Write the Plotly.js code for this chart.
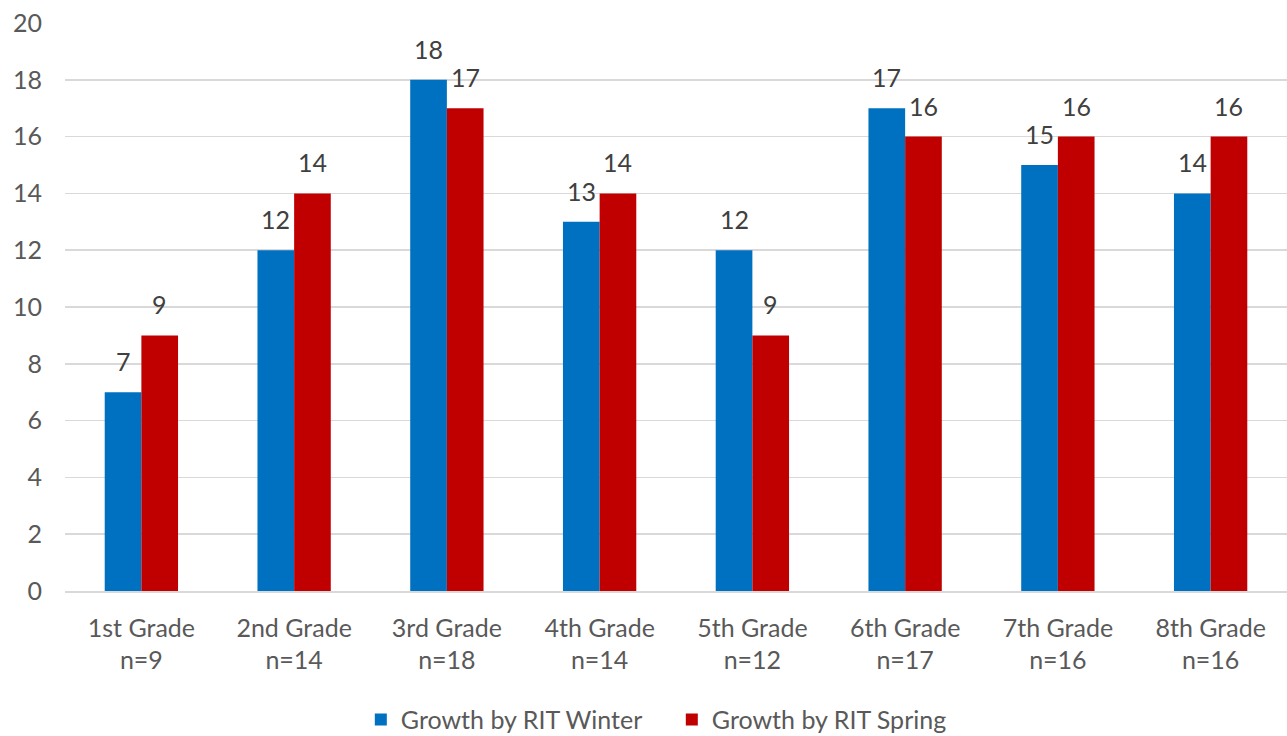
<!DOCTYPE html>
<html><head><meta charset="utf-8">
<script src="https://cdn.plot.ly/plotly-3.0.1.min.js"></script>
<style>html,body{margin:0;padding:0;background:#fff}#chart{width:1287px;height:736px}</style>
</head><body><div id="chart"></div>
<script>
const categories = ["1st Grade<br>n=9","2nd Grade<br>n=14","3rd Grade<br>n=18","4th Grade<br>n=14","5th Grade<br>n=12","6th Grade<br>n=17","7th Grade<br>n=16","8th Grade<br>n=16"];
const winter = [7,12,18,13,12,17,15,14];
const spring = [9,14,17,14,9,16,16,16];
const seriesNames = ["Growth by RIT Winter","Growth by RIT Spring"];
const FONT = "Lato, 'Open Sans', sans-serif";
const W = 1287, H = 736, M = {l:65,r:0,t:23,b:145};
const BARGAP = 0.52;
const barHalf = ((W - M.l - M.r) / categories.length) * (1 - BARGAP) / 4;
const traces = [
  {type:'bar', x:categories, y:winter, name:seriesNames[0], marker:{color:'#0070C0'}},
  {type:'bar', x:categories, y:spring, name:seriesNames[1], marker:{color:'#C00000'}}
];
const annotations = [];
[[winter,-barHalf],[spring,barHalf]].forEach(([vals,dx]) => {
  vals.forEach((v,i) => annotations.push({
    x:categories[i], y:v, xref:'x', yref:'y', text:String(v), showarrow:false,
    xanchor:'center', yanchor:'bottom', xshift:dx, yshift:14,
    font:{family:FONT,size:25,color:'#404040'}
  }));
});
const layout = {
  width:W, height:H, margin:M,
  paper_bgcolor:'#fff', plot_bgcolor:'#fff',
  font:{family:FONT,size:25,color:'#595959'},
  barmode:'group', bargap:BARGAP, bargroupgap:0,
  xaxis:{showgrid:false, showline:true, linecolor:'#d9d9d9', linewidth:1.5, ticks:'', automargin:false, tickfont:{size:25,color:'#595959'}, ticklabelstandoff:14},
  yaxis:{range:[0,20], dtick:2, showgrid:true, gridcolor:'#d9d9d9', gridwidth:1.5, zeroline:false, showline:false, ticks:'', automargin:false, tickfont:{size:25,color:'#595959'}, ticklabelstandoff:22},
  legend:{orientation:'h', x:0.522, xanchor:'center', xref:'container', yref:'container', y:0.022, yanchor:'middle', font:{size:25,color:'#595959'}, traceorder:'normal', entrywidth:266, entrywidthmode:'pixels'},
  annotations:annotations,
  showlegend:true
};
Plotly.newPlot('chart', traces, layout, {displayModeBar:false, staticPlot:true});
</script></body></html>
